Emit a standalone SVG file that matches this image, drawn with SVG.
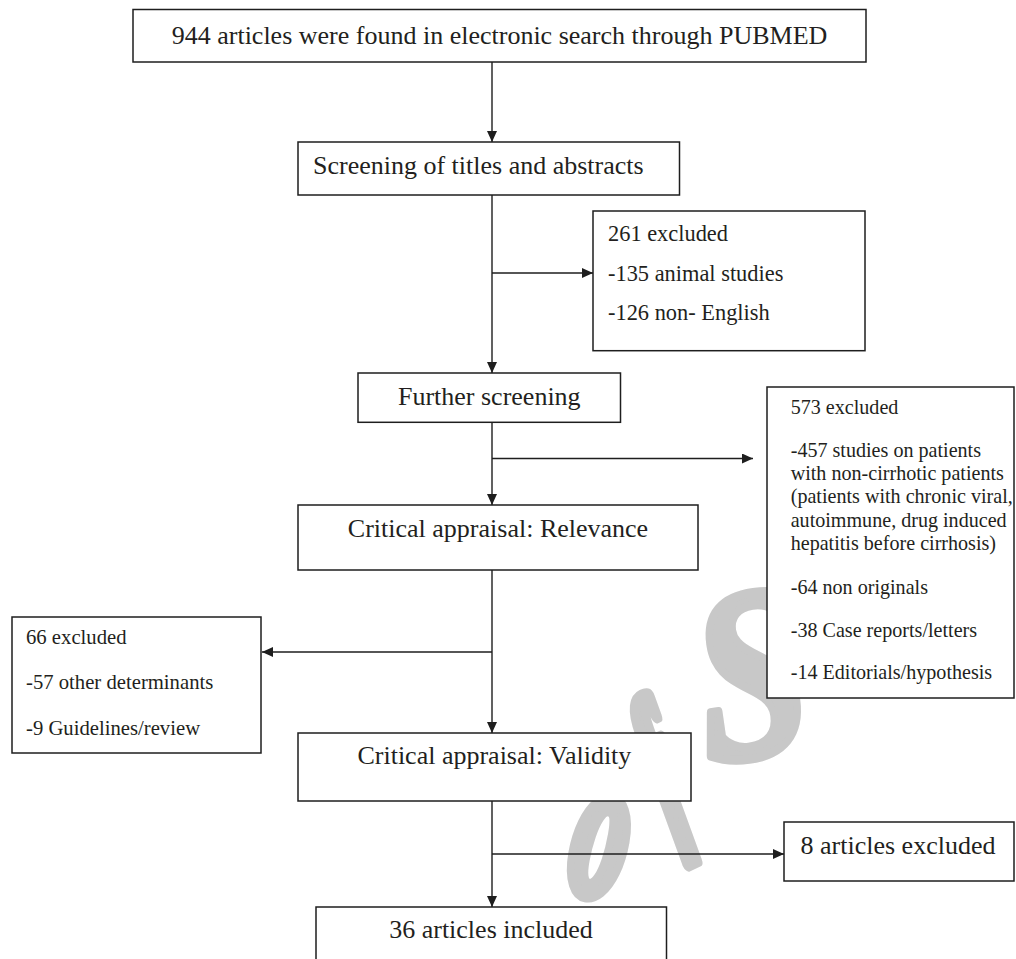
<svg xmlns="http://www.w3.org/2000/svg" width="1016" height="959" viewBox="0 0 1016 959">
<style>
.box{fill:#fff;stroke:#1e1e1e;stroke-width:1.5}
.t{font-family:"Liberation Serif","Times New Roman",serif;fill:#231f20}
.m{font-size:26px;text-anchor:middle}
.s1{font-size:22.4px}
.s2{font-size:20.1px}
.s3{font-size:20.7px}
.c{fill:none;stroke:#1e1e1e;stroke-width:1.4}
.wm{font-family:"Liberation Serif","Times New Roman",serif;font-style:italic;font-weight:bold;fill:#c8c8c8;stroke:#c8c8c8;stroke-linejoin:round;text-anchor:middle}
</style>
<defs>
<marker id="ah" markerUnits="userSpaceOnUse" markerWidth="12" markerHeight="11" refX="11" refY="5" orient="auto">
<path d="M0,0 L11,5 L0,10 Z" fill="#1e1e1e"/>
</marker>
</defs>
<rect width="1016" height="959" fill="#fff"/>
<g id="watermark">
<text class="wm" style="font-size:205px;stroke-width:14" transform="translate(600,848) rotate(10) scale(0.55,1)" x="0" y="47">o</text>
<text class="wm" style="font-size:185px;stroke-width:16" transform="translate(665,782) rotate(-25) scale(0.5,1)" x="0" y="44">f</text>
<text class="wm" style="font-size:245px;stroke-width:9" transform="translate(750,672) rotate(-8) scale(0.8,1)" x="0" y="84">S</text>
</g>
<g id="connectors">
<path class="c" d="M492,62 V142" marker-end="url(#ah)"/>
<path class="c" d="M492,195 V373" marker-end="url(#ah)"/>
<path class="c" d="M492,273 H593" marker-end="url(#ah)"/>
<path class="c" d="M492,422 V505" marker-end="url(#ah)"/>
<path class="c" d="M492,458.5 H753" marker-end="url(#ah)"/>
<path class="c" d="M492,570 V733" marker-end="url(#ah)"/>
<path class="c" d="M492,652 H262" marker-end="url(#ah)"/>
<path class="c" d="M492,801 V907" marker-end="url(#ah)"/>
<path class="c" d="M492,854 H784" marker-end="url(#ah)"/>
</g>
<g id="n1"><rect class="box" x="133" y="9.5" width="733" height="52.5"/><text class="t m" x="499.5" y="43.5">944 articles were found in electronic search through PUBMED</text></g>
<g id="n2"><rect class="box" x="298" y="142" width="381.5" height="53"/><text class="t" style="font-size:26px" x="313" y="174">Screening of titles and abstracts</text></g>
<g id="n3"><rect class="box" x="593" y="211" width="272" height="139.7"/>
<text class="t s1" x="608" y="241">261 excluded</text>
<text class="t s1" x="608" y="281">-135 animal studies</text>
<text class="t s1" x="608" y="320">-126 non- English</text></g>
<g id="n4"><rect class="box" x="358" y="373" width="262.5" height="49.3"/><text class="t m" x="489.3" y="405">Further screening</text></g>
<g id="n5"><rect class="box" x="767" y="387" width="247" height="311"/>
<text class="t s2" x="790.7" y="414">573 excluded</text>
<text class="t s2" x="790.7" y="457">-457 studies on patients</text>
<text class="t s2" x="790.7" y="480">with non-cirrhotic patients</text>
<text class="t s2" x="790.7" y="503">(patients with chronic viral,</text>
<text class="t s2" x="790.7" y="526.5">autoimmune, drug induced</text>
<text class="t s2" x="790.7" y="550">hepatitis before cirrhosis)</text>
<text class="t s2" x="790.7" y="593.5">-64 non originals</text>
<text class="t s2" x="790.7" y="637">-38 Case reports/letters</text>
<text class="t s2" x="790.7" y="679">-14 Editorials/hypothesis</text></g>
<g id="n6"><rect class="box" x="298" y="505" width="400" height="65"/><text class="t m" x="498" y="536.5">Critical appraisal: Relevance</text></g>
<g id="n7"><rect class="box" x="12" y="617" width="249" height="136"/>
<text class="t s3" x="26" y="643.5">66 excluded</text>
<text class="t s3" x="26" y="689">-57 other determinants</text>
<text class="t s3" x="26" y="735">-9 Guidelines/review</text></g>
<g id="n8"><rect class="box" x="298" y="733" width="393" height="68"/><text class="t m" x="494.4" y="764">Critical appraisal: Validity</text></g>
<g id="n9"><rect class="box" x="784" y="822" width="230" height="59"/><text class="t m" x="898" y="854">8 articles excluded</text></g>
<g id="n10"><rect class="box" x="316" y="907" width="350.5" height="70"/><text class="t m" x="491" y="937.5">36 articles included</text></g>
</svg>
